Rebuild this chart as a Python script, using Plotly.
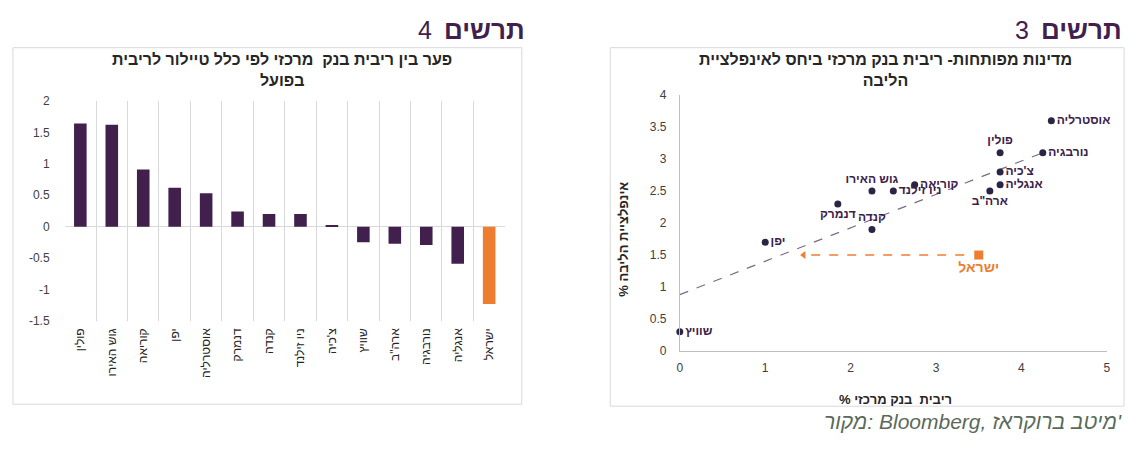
import numpy as np
import plotly.graph_objects as go

W, H = 1136, 450

# ---- chart 4: gap between Taylor-rule rate and actual rate ----
bar_countries = ["פולין", "גוש האירו", "קוריאה", "יפן", "אוסטרליה", "דנמרק", "קנדה",
                 "ניו זילנד", "צ'כיה", "שוויץ", "ארה\"ב", "נורבגיה", "אנגליה", "ישראל"]
bar_gap = [1.64, 1.62, 0.91, 0.62, 0.53, 0.24, 0.20, 0.20, 0.02, -0.25, -0.27, -0.29, -0.59, -1.23]
bar_ticks = [2, 1.5, 1, 0.5, 0, -0.5, -1, -1.5]
bar_ticktext = ["2", "1.5", "1", "0.5", "0", "-0.5", "-1", "-1.5"]

# ---- chart 3: policy rate vs core inflation ----
sc_countries = ["אוסטרליה", "פולין", "נורבגיה", "צ'כיה", "אנגליה", "ארה\"ב", "קוריאה",
                "ניו זילנד", "גוש האירו", "דנמרק", "קנדה", "יפן", "שוויץ"]
sc_rate = [4.35, 3.75, 4.25, 3.75, 3.75, 3.63, 2.75, 2.5, 2.25, 1.85, 2.25, 1.0, 0.0]
sc_core = [3.6, 3.1, 3.1, 2.8, 2.6, 2.5, 2.6, 2.5, 2.5, 2.3, 1.9, 1.7, 0.3]
israel_rate = 3.5
israel_core = 1.5
arrow_from, arrow_to = 3.33, 1.45

PURPLE = "#41204D"
ORANGE = "#ED7D31"
FONT = "Liberation Sans, Arial, sans-serif"
LRE, PDF = "\u202a", "\u202c"


def px(x):
    return x / W


def py(y):
    return 1 - y / H


fig = go.Figure()

bar_colors = [ORANGE if c == "ישראל" else PURPLE for c in bar_countries]
fig.add_trace(go.Bar(x=bar_countries, y=bar_gap, marker=dict(color=bar_colors, line=dict(width=0)),
                     xaxis="x", yaxis="y", showlegend=False))

# trendline over all points incl. Israel (linear fit, as in Excel)
all_x = np.array(sc_rate + [israel_rate])
all_y = np.array(sc_core + [israel_core])
slope, icpt = np.polyfit(all_x, all_y, 1)
tx = np.array([all_x.min(), all_x.max()])
fig.add_trace(go.Scatter(x=tx, y=slope * tx + icpt, mode="lines",
                         line=dict(color="#7B6A8C", width=1.2, dash="dash"),
                         xaxis="x2", yaxis="y2", showlegend=False, hoverinfo="skip"))

positions = ["middle right", "top center", "middle right", "middle right", "middle right",
             "bottom center", "middle right", "middle right", "top center", "bottom center",
             "top center", "middle right", "middle right"]
fig.add_trace(go.Scatter(x=sc_rate, y=sc_core, mode="markers+text", text=sc_countries,
                         textposition=positions,
                         textfont=dict(family=FONT, size=12, color="#3B2049", weight="bold"),
                         marker=dict(color="#2A2445", size=7),
                         cliponaxis=False, xaxis="x2", yaxis="y2", showlegend=False))

# Israel arrow (dashed) and point
fig.add_trace(go.Scatter(x=[arrow_from, arrow_to], y=[israel_core, israel_core], mode="lines",
                         line=dict(color=ORANGE, width=1.5, dash="dash"),
                         xaxis="x2", yaxis="y2", showlegend=False, hoverinfo="skip"))
fig.add_trace(go.Scatter(x=[arrow_to], y=[israel_core], mode="markers",
                         marker=dict(color=ORANGE, size=7, symbol="triangle-left"),
                         xaxis="x2", yaxis="y2", showlegend=False, hoverinfo="skip"))
fig.add_trace(go.Scatter(x=[israel_rate], y=[israel_core], mode="markers+text", text=["ישראל"],
                         textposition="bottom center",
                         textfont=dict(family=FONT, size=14, color=ORANGE, weight="bold"),
                         marker=dict(color=ORANGE, size=9, symbol="square"),
                         cliponaxis=False, xaxis="x2", yaxis="y2", showlegend=False))

fig.update_layout(
    width=W, height=H,
    margin=dict(l=0, r=0, t=0, b=0),
    paper_bgcolor="white", plot_bgcolor="white",
    font=dict(family=FONT, color="#595959"),
    bargap=0.6,
    xaxis=dict(domain=[px(62), px(505)], type="category", tickson="boundaries",
               showgrid=True, gridcolor="#D9D9D9", gridwidth=1, tickangle=-90, ticks="",
               showline=False, zeroline=False, anchor="y",
               tickfont=dict(size=12, color="#262626"), ticklabelstandoff=4),
    yaxis=dict(domain=[py(324), py(97)], range=[-1.5, 2], tickvals=bar_ticks, ticktext=bar_ticktext,
               showgrid=False, zeroline=True, zerolinecolor="#D9D9D9", zerolinewidth=1,
               showline=False, ticks="", tickfont=dict(size=12, color="#404040"),
               ticklabelstandoff=14, anchor="x"),
    xaxis2=dict(domain=[px(681), px(1110.7)], range=[0, 5], dtick=1, showgrid=False, zeroline=False,
                showline=True, linecolor="#BFBFBF", ticks="", anchor="y2",
                tickfont=dict(size=12, color="#404040"), ticklabelstandoff=6),
    yaxis2=dict(domain=[py(355), py(91)], range=[0, 4], dtick=0.5, showgrid=False, zeroline=False,
                showline=True, linecolor="#BFBFBF", ticks="", anchor="x2",
                tickfont=dict(size=12, color="#404040"), ticklabelstandoff=10),
)

shapes = [
    dict(type="rect", xref="paper", yref="paper", x0=px(10), x1=px(522), y0=py(410), y1=py(42),
         line=dict(color="#D9D9D9", width=1)),
    dict(type="rect", xref="paper", yref="paper", x0=px(611), x1=px(1128), y0=py(412), y1=py(42),
         line=dict(color="#D9D9D9", width=1)),
]
fig.update_layout(shapes=shapes)

ann = []
# headers
for right, num_right, num in [(527, 434, "4"), (1128, 1034, "3")]:
    ann.append(dict(x=px(right), y=py(24), xref="paper", yref="paper", xanchor="right", yanchor="middle",
                    text="<b>תרשים</b>", showarrow=False, font=dict(size=26, color=PURPLE, family=FONT)))
    ann.append(dict(x=px(num_right), y=py(24), xref="paper", yref="paper", xanchor="right", yanchor="middle",
                    text=num, showarrow=False, font=dict(size=25, color=PURPLE, family=FONT)))
# chart titles
ann.append(dict(x=px(281), y=py(65), xref="paper", yref="paper", xanchor="center", yanchor="middle",
                text="<b>פער בין ריבית בנק  מרכזי לפי כלל טיילור לריבית<br>בפועל</b>", showarrow=False,
                font=dict(size=16, color="#262626", family=FONT)))
ann.append(dict(x=px(888), y=py(65), xref="paper", yref="paper", xanchor="center", yanchor="middle",
                text="<b>מדינות מפותחות- ריבית בנק מרכזי ביחס לאינפלציית<br>הליבה</b>", showarrow=False,
                font=dict(size=16, color="#262626", family=FONT)))
# axis titles of chart 3
ann.append(dict(x=px(898), y=py(405), xref="paper", yref="paper", xanchor="center", yanchor="middle",
                text="<b>% ריבית  בנק מרכזי</b>", showarrow=False,
                font=dict(size=13, color="#262626", family=FONT)))
ann.append(dict(x=px(624), y=py(240), xref="paper", yref="paper", xanchor="center", yanchor="middle",
                text="<b>% אינפלציית הליבה</b>", textangle=-90, showarrow=False,
                font=dict(size=13, color="#262626", family=FONT)))
# source
ann.append(dict(x=px(1128), y=py(428), xref="paper", yref="paper", xanchor="right", yanchor="middle",
                text="<i>" + LRE + "מקור: Bloomberg, מיטב ברוקראז'" + PDF + "</i>", showarrow=False,
                font=dict(size=21, color="#5A6A5A", family=FONT)))
fig.update_layout(annotations=ann)

fig.write_html("out.html", config={"displayModeBar": False},
               post_script="document.body.style.margin='0';")
